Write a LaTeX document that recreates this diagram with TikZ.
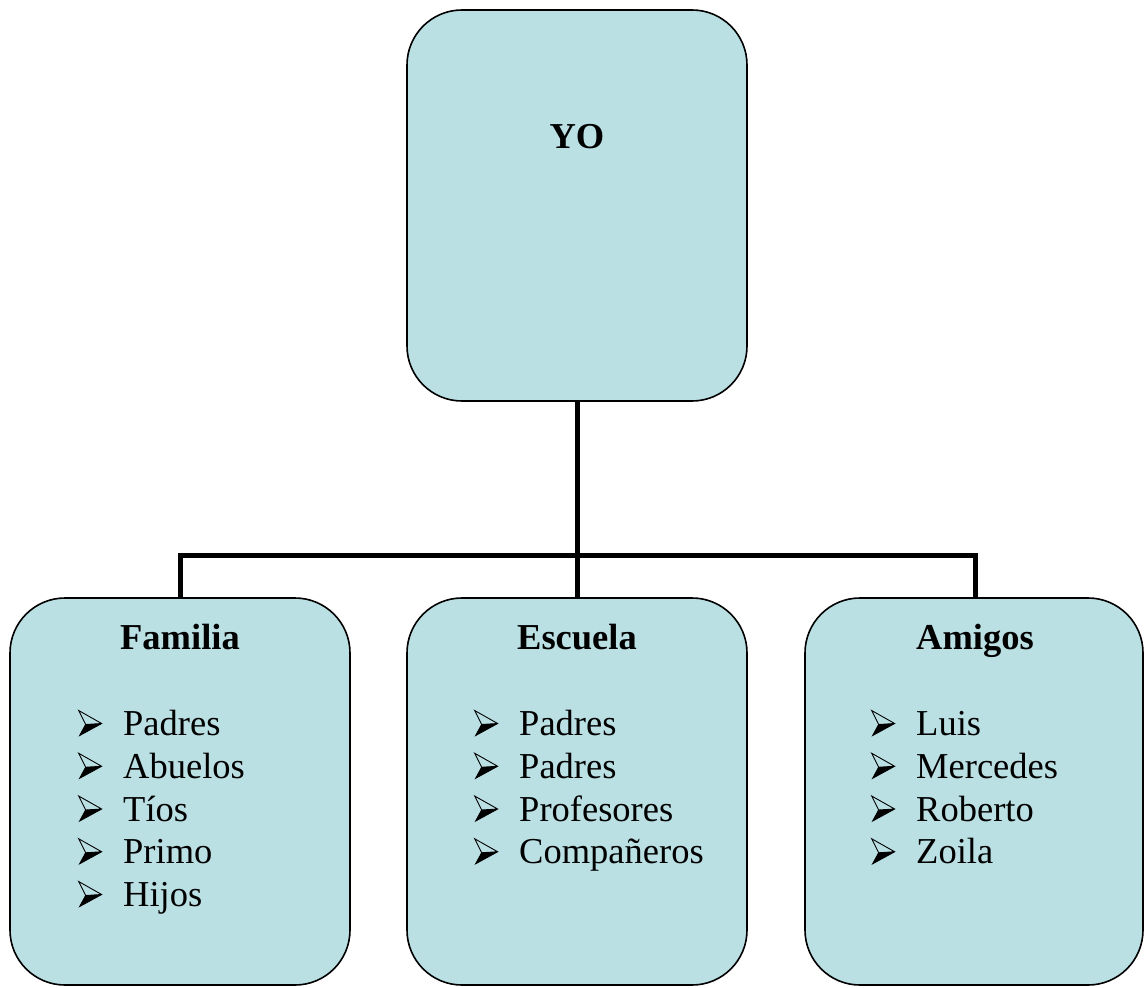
\documentclass[tikz,border=0pt]{standalone}
\usepackage{fontspec}
\setmainfont{Liberation Serif}
\definecolor{boxfill}{RGB}{186,224,228}
\newcommand{\bul}{\makebox[45pt][l]{\tikz[baseline=0pt,x=1pt,y=1pt,line join=miter]{%
  \fill[black] (7,11) -- (23,12) -- (1,0) -- cycle;
  \draw[black, line width=0.9pt] (0,25) -- (23,12) -- (1,0) -- (7,11) -- cycle (7,11) -- (23,12);}}}
\tikzset{
  box/.style={draw=black, line width=1.6pt, fill=boxfill, rounded corners=55pt, inner sep=0pt},
  conn/.style={draw=black, line width=5pt},
  ttl/.style={font=\fontsize{36.5}{43}\selectfont\bfseries, inner sep=0pt, anchor=base},
  item/.style={font=\fontsize{36.5}{43}\selectfont, inner sep=0pt, anchor=base west}
}
\begin{document}
\begin{tikzpicture}[x=1pt,y=-1pt]
\useasboundingbox (0,0) rectangle (1147,987);
% boxes
\node[box, minimum width=340pt, minimum height=391pt] (yo) at (577,205.5) {};
\node[box, minimum width=340pt, minimum height=387pt] (fam) at (180,791.5) {};
\node[box, minimum width=340pt, minimum height=387pt] (esc) at (577,791.5) {};
\node[box, minimum width=338pt, minimum height=387pt] (ami) at (974,791.5) {};
% titles
\node[ttl] (yot) at (577,149) {YO};
\node[ttl] (famt) at (180,649) {Familia};
\node[ttl] (esct) at (577,649) {Escuela};
\node[ttl] (amit) at (975,649) {Amigos};
% items
\foreach \t [count=\i] in {Padres,Abuelos,Tíos,Primo,Hijos}
  \node[item] (fam\i) at (78,{735.5+42.75*(\i-1)}) {\bul\t};
\foreach \t [count=\i] in {Padres,Padres,Profesores,Compañeros}
  \node[item] (esc\i) at (474,{735.5+42.75*(\i-1)}) {\bul\t};
\foreach \t [count=\i] in {Luis,Mercedes,Roberto,Zoila}
  \node[item] (ami\i) at (871,{735.5+42.75*(\i-1)}) {\bul\t};
% connectors
\coordinate (j) at (577,555);
\draw[conn] (yo.south) -- (j);
\draw[conn] (j) -- (esc.north);
\draw[conn] ([xshift=-2.5pt]j) -| (fam.north);
\draw[conn] ([xshift=2.5pt]j) -| ([xshift=1pt]ami.north);
\end{tikzpicture}
\end{document}
